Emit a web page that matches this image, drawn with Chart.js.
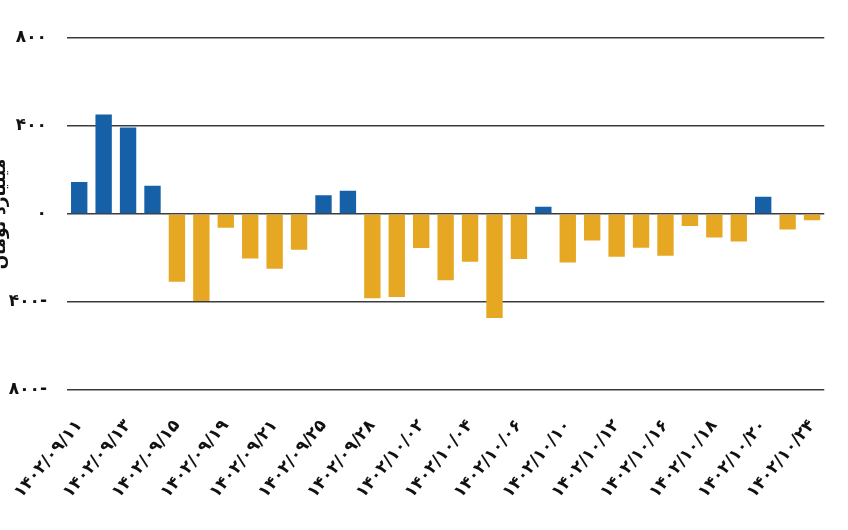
<!DOCTYPE html>
<html>
<head>
<meta charset="utf-8">
<title>chart</title>
<script src="https://cdn.jsdelivr.net/npm/chart.js@4/dist/chart.umd.min.js"></script>
<style>
  html, body { margin: 0; padding: 0; background: #fff; overflow: hidden; }
  #wrap { position: relative; width: 860px; height: 530px; margin-left: -14px; }
</style>
</head>
<body>
<div id="wrap"><canvas id="chart1"></canvas></div>
<script>
// روزهای معاملاتی
var dates = [
  '۱۴۰۲/۰۹/۱۱', '۱۴۰۲/۰۹/۱۲', '۱۴۰۲/۰۹/۱۳', '۱۴۰۲/۰۹/۱۴', '۱۴۰۲/۰۹/۱۵',
  '۱۴۰۲/۰۹/۱۸', '۱۴۰۲/۰۹/۱۹', '۱۴۰۲/۰۹/۲۰', '۱۴۰۲/۰۹/۲۱', '۱۴۰۲/۰۹/۲۲',
  '۱۴۰۲/۰۹/۲۵', '۱۴۰۲/۰۹/۲۶', '۱۴۰۲/۰۹/۲۸', '۱۴۰۲/۰۹/۲۹', '۱۴۰۲/۱۰/۰۲',
  '۱۴۰۲/۱۰/۰۳', '۱۴۰۲/۱۰/۰۴', '۱۴۰۲/۱۰/۰۵', '۱۴۰۲/۱۰/۰۶', '۱۴۰۲/۱۰/۰۹',
  '۱۴۰۲/۱۰/۱۰', '۱۴۰۲/۱۰/۱۱', '۱۴۰۲/۱۰/۱۲', '۱۴۰۲/۱۰/۱۳', '۱۴۰۲/۱۰/۱۶',
  '۱۴۰۲/۱۰/۱۷', '۱۴۰۲/۱۰/۱۸', '۱۴۰۲/۱۰/۱۹', '۱۴۰۲/۱۰/۲۰', '۱۴۰۲/۱۰/۲۳',
  '۱۴۰۲/۱۰/۲۴'
];
// میلیارد تومان
var values = [
  146, 452, 393, 128, -308,
  -395, -62, -202, -249, -162,
  85, 106, -383, -377, -155,
  -301, -217, -473, -205, 33,
  -220, -121, -194, -153, -190,
  -54, -107, -125, 78, -70,
  -28
];
var yTicks = [-800, -400, 0, 400, 800];
var axisTitle = 'میلیارد تومان';

var blue = '#1560a6';
var orange = '#e6a823';
var faDigits = '۰۱۲۳۴۵۶۷۸۹';

function toFa(n) {
  var s = String(Math.abs(n)).replace(/[0-9]/g, function(d) { return faDigits[d]; });
  return n < 0 ? s + '-' : s;
}

var ctx = document.getElementById('chart1').getContext('2d');
var chart = new Chart(ctx, {
  type: 'bar',
  data: {
    labels: dates,
    datasets: [{
      data: values,
      backgroundColor: values.map(function(v) { return v >= 0 ? blue : orange; }),
      borderWidth: 0,
      categoryPercentage: 1,
      barPercentage: 0.67
    }]
  },
  options: {
    responsive: true,
    maintainAspectRatio: false,
    animation: false,
    layout: { padding: { top: 38, right: 20, left: 0, bottom: 0 } },
    plugins: {
      legend: { display: false },
      tooltip: { enabled: false }
    },
    scales: {
      x: {
        grid: { display: false },
        border: { display: false },
        ticks: {
          autoSkip: false,
          minRotation: 50,
          maxRotation: 50,
          padding: 18,
          color: '#111',
          font: { family: 'DejaVu Sans', size: 17, weight: 'bold' },
          callback: function(val, i) { return i % 2 === 0 ? dates[i] : ''; }
        },
        afterFit: function(scale) { scale.height = 140; }
      },
      y: {
        min: -800,
        max: 800,
        afterBuildTicks: function(scale) {
          scale.ticks = yTicks.map(function(v) { return { value: v }; });
        },
        grid: { color: '#3c3c3c', lineWidth: 1.5, drawTicks: false },
        border: { display: false },
        title: {
          display: true,
          text: axisTitle,
          color: '#111',
          font: { family: 'DejaVu Sans', size: 17, weight: 'bold' }
        },
        ticks: {
          padding: 20,
          color: '#111',
          font: { family: 'DejaVu Sans', size: 17, weight: 'bold' },
          callback: function(v) { return toFa(v); }
        },
        afterFit: function(scale) { scale.width = 81; }
      }
    }
  }
});
</script>
</body>
</html>
